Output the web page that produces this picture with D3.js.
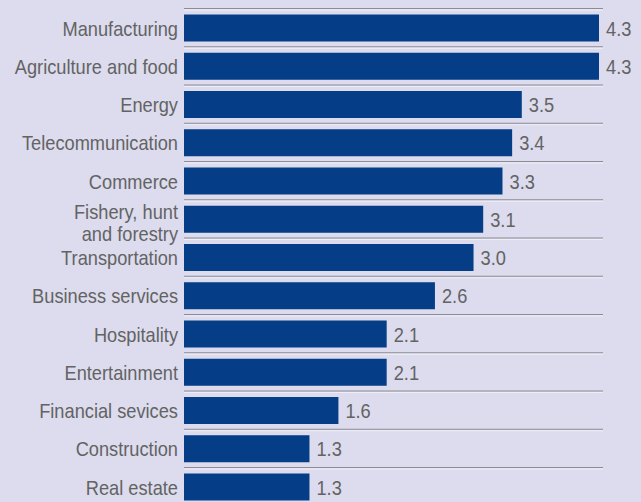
<!DOCTYPE html>
<html>
<head>
<meta charset="utf-8">
<script src="https://cdn.jsdelivr.net/npm/d3@7"></script>
<style>
  html, body { margin: 0; padding: 0; background: #dcdcee; }
  svg { display: block; }
  text { font-family: "Liberation Sans", Arial, sans-serif; fill: #636363; }
</style>
</head>
<body>
<svg id="chart" width="641" height="502"></svg>
<script>
// Sectors, top to bottom
const categories = [
  "Manufacturing", "Agriculture and food", "Energy", "Telecommunication",
  "Commerce", "Fishery, hunt\nand forestry", "Transportation", "Business services",
  "Hospitality", "Entertainment", "Financial sevices", "Construction", "Real estate"
];
// Value per sector
const values = [4.3, 4.3, 3.5, 3.4, 3.3, 3.1, 3.0, 2.6, 2.1, 2.1, 1.6, 1.3, 1.3];
const xDomain = [0, 4.3];

const left = 184, right = 599;
const barH = 27;
const fontSize = 20.5;
const squeeze = 0.89;   // narrow the glyphs horizontally

const svg = d3.select("#chart");

const x = d3.scaleLinear().domain(xDomain).range([left, right]);
const y = d3.scalePoint().domain(d3.range(categories.length)).range([28, 487]);

const rows = categories.map((c, i) => ({ label: c, value: values[i], i }));

// separator rules above each row
const rules = svg.append("g");
rules.selectAll("line.dark").data(rows).join("line")
  .attr("x1", left).attr("x2", 603)
  .attr("y1", d => y(d.i) - 19.5).attr("y2", d => y(d.i) - 19.5)
  .attr("stroke", "#8c8c94").attr("stroke-width", 1.2);
rules.selectAll("line.light").data(rows).join("line")
  .attr("x1", left).attr("x2", 603)
  .attr("y1", d => y(d.i) - 18).attr("y2", d => y(d.i) - 18)
  .attr("stroke", "#eeeef8").attr("stroke-width", 1);

// bars
svg.append("g").selectAll("rect").data(rows).join("rect")
  .attr("x", x(0))
  .attr("y", d => y(d.i) - barH / 2)
  .attr("width", d => x(d.value) - x(0))
  .attr("height", barH)
  .attr("fill", "#053d87");

// value labels
svg.append("g").selectAll("text").data(rows).join("text")
  .attr("transform", d => `translate(${x(d.value) + 7},${y(d.i) + 7.5}) scale(${squeeze},1)`)
  .attr("font-size", fontSize)
  .text(d => d3.format(".1f")(d.value));

// category labels, right aligned to the bar start
const cat = svg.append("g").selectAll("text").data(rows).join("text")
  .attr("transform", d => {
    const lines = d.label.split("\n");
    const base = lines.length > 1 ? y(d.i) : y(d.i) + 7.5;
    return `translate(178,${base}) scale(${squeeze},1)`;
  })
  .attr("text-anchor", "end")
  .attr("font-size", fontSize);
cat.each(function(d) {
  const t = d3.select(this);
  d.label.split("\n").forEach((ln, k) => {
    t.append("tspan").attr("x", 0).attr("dy", k === 0 ? 0 : 22).text(ln);
  });
});
</script>
</body>
</html>
